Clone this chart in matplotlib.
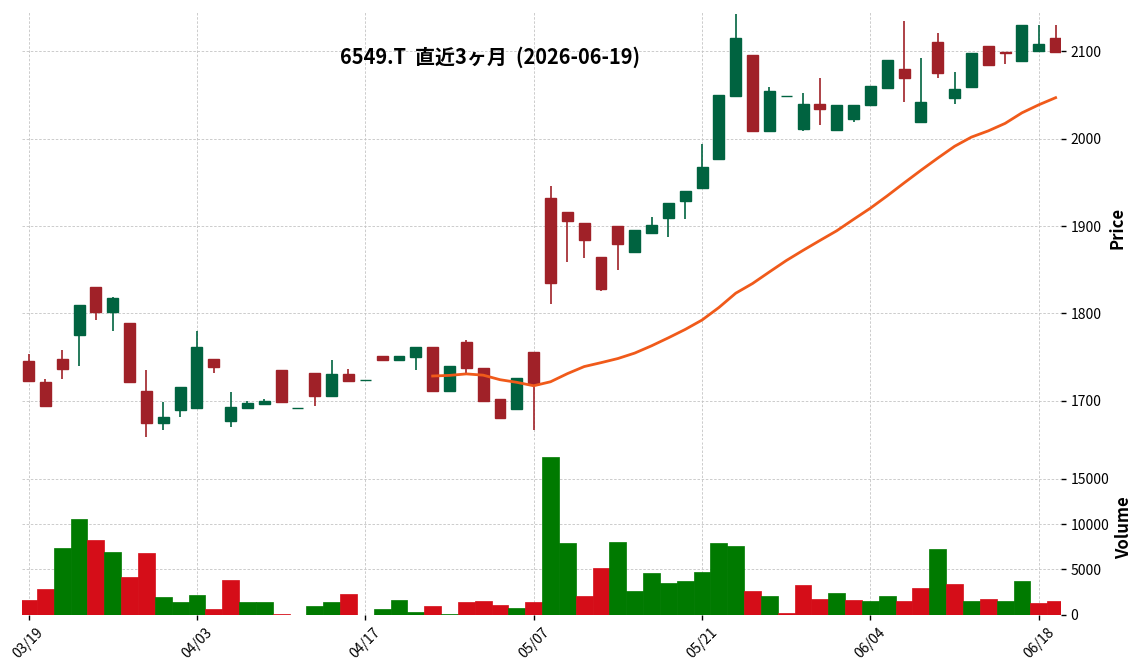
import numpy as np
import pandas as pd
import matplotlib
matplotlib.use('Agg')
import matplotlib.pyplot as plt

plt.rcParams['font.family'] = ['Noto Sans CJK JP', 'DejaVu Sans']

# Trading days (TSE calendar, holidays removed)
holidays = ['2026-03-20', '2026-04-29', '2026-05-04', '2026-05-05', '2026-05-06']
dates = pd.bdate_range('2026-03-19', '2026-06-19')
dates = dates[~dates.isin(pd.to_datetime(holidays))]

opens = [1745, 1721, 1748, 1775, 1830, 1801, 1789, 1711, 1674, 1689,
         1692, 1748, 1677, 1692, 1696, 1735, 1692, 1732, 1705, 1731,
         1724, 1751, 1747, 1749.5, 1761, 1711, 1767, 1738, 1701.5, 1690,
         1756, 1932, 1916, 1903, 1864.5, 1900, 1870, 1892, 1909, 1929,
         1944, 1977, 2049, 2096, 2008.5, 2049, 2011, 2040, 2010, 2022,
         2039, 2058, 2080, 2018.5, 2111, 2046, 2059, 2106, 2099, 2089,
         2100, 2115]
highs = [1754, 1725, 1758, 1810, 1830, 1819, 1789, 1735, 1699, 1716,
         1780, 1748, 1710, 1700, 1702, 1735, 1692, 1732, 1747, 1736,
         1724, 1751, 1751, 1761, 1761, 1740, 1770, 1738, 1701.5, 1725.5,
         1756, 1946, 1916, 1903, 1864.5, 1900, 1895, 1910, 1926, 1940,
         1994, 2050, 2143, 2096, 2059, 2049, 2052, 2070, 2039, 2038,
         2060, 2090, 2135, 2092, 2121, 2076, 2098, 2106, 2099.5, 2130,
         2130, 2130]
lows = [1722, 1693, 1725, 1740, 1792, 1780, 1721, 1659, 1667, 1681,
        1692, 1732, 1670, 1692, 1696, 1699, 1692, 1694, 1705, 1723,
        1724, 1747, 1747, 1735, 1711, 1711, 1730, 1700, 1680, 1690,
        1667, 1811, 1859, 1863, 1826, 1850, 1869.5, 1892, 1887, 1908,
        1944, 1977, 2049, 2008.5, 2008.5, 2049, 2009, 2016, 2010, 2019,
        2039, 2058, 2041.5, 2018.5, 2070, 2040, 2059, 2084, 2085, 2089,
        2100, 2099]
closes = [1722.5, 1694, 1736, 1810, 1801, 1817, 1721, 1674, 1681, 1716,
          1761, 1739, 1693, 1697, 1700, 1699, 1692, 1705, 1731, 1723,
          1724, 1747, 1751, 1761, 1711, 1740, 1737, 1700, 1680, 1725.5,
          1719, 1835, 1906, 1884, 1828, 1879, 1895, 1901, 1926, 1940,
          1968, 2050, 2115, 2008.5, 2054, 2049, 2040, 2033.5, 2039, 2038,
          2060, 2090, 2069, 2041.5, 2075, 2057, 2098, 2084, 2098.5, 2130,
          2108.5, 2099]
volumes = [1600, 2800, 7400, 10500, 8200, 6900, 4200, 6800, 1900, 1400,
           2200, 600, 3800, 1400, 1400, 100, 0, 1000, 1400, 2300,
           0, 600, 1600, 350, 1000, 100, 1400, 1500, 1100, 700,
           1400, 17400, 7900, 2100, 5100, 8000, 2600, 4600, 3500, 3700,
           4700, 7900, 7600, 2600, 2100, 150, 3300, 1700, 2400, 1600,
           1500, 2100, 1500, 2900, 7300, 3400, 1500, 1700, 1500, 3700,
           1300, 1500]

df = pd.DataFrame({'Open': opens, 'High': highs, 'Low': lows,
                   'Close': closes, 'Volume': volumes}, index=dates)
ma25 = df['Close'].rolling(25).mean()

up_c, dn_c = '#006340', '#a02128'
vup_c, vdn_c = '#007a00', '#d50d18'
grid_c = '#c4c4c4'

x = np.arange(len(df))
is_up = df['Close'] >= df['Open']
candle_colors = [up_c if u else dn_c for u in is_up]
prev_close = df['Close'].shift(1).fillna(df['Open'])
vol_colors = [vup_c if c >= p else vdn_c for c, p in zip(df['Close'], prev_close)]

W, H = 1144, 670
fig = plt.figure(figsize=(W / 100, H / 100), dpi=100)
ax = fig.add_axes([22 / W, 1 - 440 / H, 1039 / W, 428 / H])
axv = fig.add_axes([22 / W, 1 - 614.7 / H, 1039 / W, 173.2 / H], sharex=ax)

for a in (ax, axv):
    a.set_facecolor('white')
    for s in a.spines.values():
        s.set_visible(False)
    a.grid(True, color=grid_c, linestyle=(0, (3, 2)), linewidth=0.6)
    a.set_axisbelow(True)
    a.yaxis.tick_right()
    a.tick_params(axis='y', labelsize=10, length=3.5, width=1)

# candles
ax.vlines(x, df['Low'], df['High'], colors=candle_colors, linewidth=1.2, zorder=2)
body_bottom = np.minimum(df['Open'], df['Close'])
body_height = np.abs(df['Close'] - df['Open'])
ax.bar(x, body_height, bottom=body_bottom, width=0.65, color=candle_colors,
       edgecolor=candle_colors, linewidth=1, zorder=3)
ax.plot(x, ma25, color='#f05a1a', linewidth=2, zorder=4)

ax.set_ylim(1655, 2145)
ax.set_yticks([1700, 1800, 1900, 2000, 2100])
ax.tick_params(axis='x', bottom=False, labelbottom=False)

# volume
axv.bar(x, df['Volume'], width=1.0, color=vol_colors, edgecolor=vol_colors,
        linewidth=0.5)
axv.set_ylim(0, 19100)
axv.set_yticks([0, 5000, 10000, 15000])
axv.set_xlim(-0.39, 61.32)

tick_idx = list(range(0, len(df), 10))
axv.set_xticks(tick_idx)
axv.set_xticklabels([dates[i].strftime('%m/%d') for i in tick_idx],
                    rotation=45, ha='center', fontsize=10)
axv.tick_params(axis='x', length=3.5, width=1, pad=4)

fig.text(490 / W, 1 - 57 / H, '6549.T  直近3ヶ月  (2026-06-19)',
         ha='center', va='center', fontsize=14.4, fontweight='bold')
fig.text(1117.5 / W, 1 - 228 / H, 'Price', rotation=90,
         ha='center', va='center', fontsize=12, fontweight='bold')
fig.text(1124 / W, 1 - 528 / H, 'Volume', rotation=90,
         ha='center', va='center', fontsize=12, fontweight='bold')

fig.savefig('out.png', dpi=100, facecolor='white')
